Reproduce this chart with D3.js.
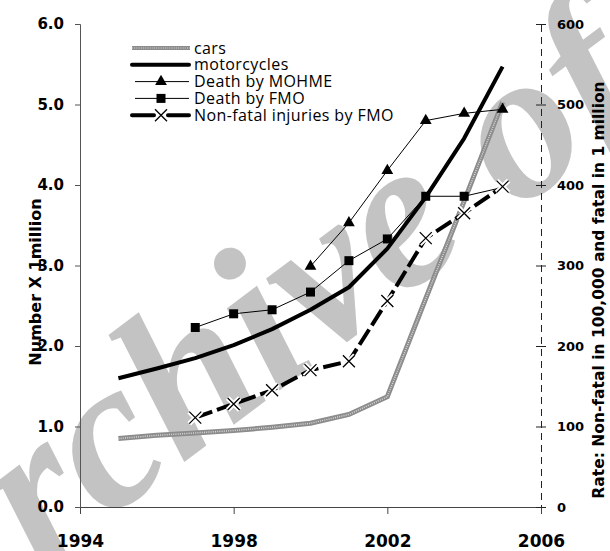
<!DOCTYPE html>
<html>
<head>
<meta charset="utf-8">
<script src="https://cdn.jsdelivr.net/npm/d3@7/dist/d3.min.js"></script>
<style>
  body { margin: 0; background: #fff; }
  svg { display: block; }
</style>
</head>
<body>
<svg id="svg" width="610" height="551"></svg>
<script>
// data
var years = [1995, 1996, 1997, 1998, 1999, 2000, 2001, 2002, 2003, 2004, 2005];
var cars = [0.85, 0.89, 0.92, 0.95, 0.99, 1.04, 1.15, 1.37, 2.59, 3.8, 5.03];
var motorcycles = [1.6, 1.72, 1.85, 2.01, 2.21, 2.45, 2.73, 3.21, 3.85, 4.58, 5.47];

var mohmeYears = [2000, 2001, 2002, 2003, 2004, 2005];
var deathMOHME = [299, 353, 418, 480, 489, 494];

var fmoYears = [1997, 1998, 1999, 2000, 2001, 2002, 2003, 2004, 2005];
var deathFMO = [223, 240, 245, 267, 306, 333, 386, 386, 397];
var nonFatalFMO = [111, 128, 145, 170, 181, 256, 334, 365, 398];

var xTicks = [1994, 1998, 2002, 2006];
var leftTicks = [0, 1, 2, 3, 4, 5, 6];
var rightTicks = [0, 100, 200, 300, 400, 500, 600];
var legendLabels = ["cars", "motorcycles", "Death by MOHME", "Death by FMO", "Non-fatal injuries by FMO"];

var svg = d3.select("svg");

var x = d3.scaleLinear().domain([1994, 2006]).range([80, 541]);
var yL = d3.scaleLinear().domain([0, 6]).range([507, 24]);
var yR = d3.scaleLinear().domain([0, 600]).range([507, 24]);

// watermark (behind everything)
svg.append("text")
	.attr("transform", "translate(-73,656) rotate(-37)")
	.style("font-family", "'Liberation Serif', serif")
	.style("font-style", "italic")
	.style("font-weight", "bold")
	.style("font-size", "212px")
	.style("fill", "#c3c3c3")
	.text("Archive of SID");

// axes
var gx = svg.append("g").attr("transform", "translate(0,507)")
	.call(d3.axisBottom(x).tickValues(xTicks).tickFormat(d3.format("d")).tickSizeOuter(0).tickSize(7));
gx.select(".domain").attr("stroke", "#444");
gx.selectAll(".tick line").attr("stroke", "#444");
gx.selectAll(".tick text")
	.attr("y", 40).attr("dy", 0)
	.style("font-family", "'DejaVu Sans', sans-serif")
	.style("font-weight", "bold")
	.style("font-size", "17px")
	.style("fill", "#000");

var gl = svg.append("g").attr("transform", "translate(80,0)")
	.call(d3.axisLeft(yL).tickValues(leftTicks).tickFormat(d3.format(".1f")).tickSizeOuter(0).tickSize(5));
gl.select(".domain").attr("stroke", "#555");
gl.selectAll(".tick line").attr("stroke", "#555");
gl.selectAll(".tick text")
	.attr("x", -16)
	.style("font-family", "'DejaVu Sans', sans-serif")
	.style("font-weight", "bold")
	.style("font-size", "15px")
	.style("fill", "#000");

var gr = svg.append("g").attr("transform", "translate(541,0)")
	.call(d3.axisRight(yR).tickValues(rightTicks).tickSizeOuter(0).tickSize(5));
gr.select(".domain").attr("stroke", "#222").attr("stroke-dasharray", "7,5");
gr.selectAll(".tick line").attr("stroke", "#222").attr("x1", -5);
gr.selectAll(".tick text")
	.attr("x", 16)
	.style("font-family", "'DejaVu Sans', sans-serif")
	.style("font-weight", "bold")
	.style("font-size", "13px")
	.style("fill", "#000");

// axis titles
svg.append("text")
	.attr("transform", "translate(41,282) rotate(-90)")
	.attr("text-anchor", "middle")
	.style("font-family", "'DejaVu Sans', sans-serif")
	.style("font-weight", "bold")
	.style("font-size", "16px")
	.text("Number X 1million");

svg.append("text")
	.attr("transform", "translate(604,290) rotate(-90)")
	.attr("text-anchor", "middle")
	.style("font-family", "'DejaVu Sans', sans-serif")
	.style("font-weight", "bold")
	.style("font-size", "15.5px")
	.text("Rate: Non-fatal in 100,000 and fatal in 1 million");

// series
var carsData = years.map(function (d, i) { return { x: d, y: cars[i] }; });
var motoData = years.map(function (d, i) { return { x: d, y: motorcycles[i] }; });
var mohmeData = mohmeYears.map(function (d, i) { return { x: d, y: deathMOHME[i] }; });
var fmoData = fmoYears.map(function (d, i) { return { x: d, y: deathFMO[i] }; });
var nfData = fmoYears.map(function (d, i) { return { x: d, y: nonFatalFMO[i] }; });

var lineL = d3.line().x(function (d) { return x(d.x); }).y(function (d) { return yL(d.y); });
var lineR = d3.line().x(function (d) { return x(d.x); }).y(function (d) { return yR(d.y); });

// cars: textured grey band
svg.append("path").attr("d", lineL(carsData))
	.attr("fill", "none").attr("stroke", "#8c8c8c").attr("stroke-width", 5);
svg.append("path").attr("d", lineL(carsData))
	.attr("fill", "none").attr("stroke", "#d8d8d8").attr("stroke-width", 1.5)
	.attr("stroke-dasharray", "1,1.2");

// motorcycles
svg.append("path").attr("d", lineL(motoData))
	.attr("fill", "none").attr("stroke", "#000").attr("stroke-width", 4)
	.attr("stroke-linejoin", "round");

// death by MOHME
svg.append("path").attr("d", lineR(mohmeData))
	.attr("fill", "none").attr("stroke", "#000").attr("stroke-width", 1);
svg.append("g").selectAll("path").data(mohmeData).enter().append("path")
	.attr("d", d3.symbol().type(d3.symbolTriangle).size(60))
	.attr("transform", function (d) { return "translate(" + x(d.x) + "," + yR(d.y) + ")"; })
	.attr("fill", "#000");

// death by FMO
svg.append("path").attr("d", lineR(fmoData))
	.attr("fill", "none").attr("stroke", "#000").attr("stroke-width", 1);
svg.append("g").selectAll("rect").data(fmoData.slice(0, fmoData.length - 1)).enter().append("rect")
	.attr("x", function (d) { return x(d.x) - 4.5; })
	.attr("y", function (d) { return yR(d.y) - 4.5; })
	.attr("width", 9).attr("height", 9)
	.attr("fill", "#000");

// non-fatal injuries by FMO
svg.append("path").attr("d", lineR(nfData))
	.attr("fill", "none").attr("stroke", "#000").attr("stroke-width", 4)
	.attr("stroke-dasharray", "18,5");
var cross = "M-6,-6L6,6M-6,6L6,-6";
var nfMarks = svg.append("g").selectAll("g").data(nfData).enter().append("g")
	.attr("transform", function (d) { return "translate(" + x(d.x) + "," + yR(d.y) + ")"; });
nfMarks.append("path").attr("d", cross).attr("stroke", "#fff").attr("stroke-width", 5);
nfMarks.append("path").attr("d", cross).attr("stroke", "#000").attr("stroke-width", 1.3);

// legend
var legend = svg.append("g").attr("transform", "translate(132,48)");
var rows = legend.selectAll("g").data(legendLabels).enter().append("g")
	.attr("transform", function (d, i) { return "translate(0," + (i * 16.8) + ")"; });

rows.append("text")
	.attr("x", 62).attr("y", 5.5)
	.style("font-family", "'Open Sans', sans-serif")
	.style("font-size", "16px")
	.style("letter-spacing", "0.4px")
	.text(function (d) { return d; });

rows.filter(function (d, i) { return i === 0; }).each(function () {
	var g = d3.select(this);
	g.append("line").attr("x1", 0).attr("x2", 58).attr("stroke", "#8c8c8c").attr("stroke-width", 4);
	g.append("line").attr("x1", 0).attr("x2", 58).attr("stroke", "#d8d8d8").attr("stroke-width", 1.2).attr("stroke-dasharray", "1,1.2");
});
rows.filter(function (d, i) { return i === 1; })
	.append("line").attr("x1", 0).attr("x2", 57).attr("stroke", "#000").attr("stroke-width", 4).attr("stroke-linecap", "round");
rows.filter(function (d, i) { return i === 2; }).each(function () {
	var g = d3.select(this);
	g.append("line").attr("x1", 3).attr("x2", 57).attr("stroke", "#000").attr("stroke-width", 1);
	g.append("path").attr("d", d3.symbol().type(d3.symbolTriangle).size(60)).attr("transform", "translate(29,0)");
});
rows.filter(function (d, i) { return i === 3; }).each(function () {
	var g = d3.select(this);
	g.append("line").attr("x1", 3).attr("x2", 57).attr("stroke", "#000").attr("stroke-width", 1);
	g.append("rect").attr("x", 24.5).attr("y", -4.5).attr("width", 9).attr("height", 9);
});
rows.filter(function (d, i) { return i === 4; }).each(function () {
	var g = d3.select(this);
	g.append("line").attr("x1", 0).attr("x2", 57).attr("stroke", "#000").attr("stroke-width", 4).attr("stroke-dasharray", "22,14").attr("stroke-linecap", "round");
	g.append("path").attr("d", cross).attr("transform", "translate(29,0)").attr("stroke", "#000").attr("stroke-width", 1.3);
});
</script>
</body>
</html>
